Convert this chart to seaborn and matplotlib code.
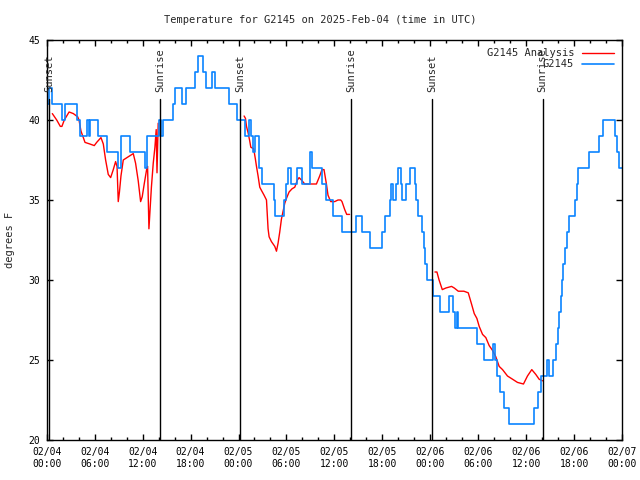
import matplotlib
matplotlib.use('Agg')
import matplotlib.pyplot as plt
import matplotlib.transforms as mtransforms
from matplotlib.ticker import MultipleLocator
import seaborn as sns

# observed G2145 temperatures: hour since 02/04 00:00 UTC where the value changes, and the value (deg F)
obs_hours = [0.2, 0.3, 0.6, 1.85, 2.3, 3.8, 4.2, 5.1, 5.3, 5.45, 6.45, 7.6, 8.9, 9.3, 10.45,
             12.35, 12.6, 14.1, 14.35, 14.5, 15.8, 16.1, 16.9, 17.4, 18.6, 18.9, 19.6, 19.9,
             20.7, 21.1, 22.75, 23.8, 24.85, 25.3, 25.6, 25.85, 26.05, 26.6, 26.9, 28.4,
             28.55, 29.7, 29.9, 30.15, 30.55, 31.3, 31.9, 32.95, 33.2, 34.5, 34.95, 35.8,
             36.95, 38.7, 39.4, 40.5, 41.9, 42.3, 42.9, 43.1, 43.3, 43.7, 43.9, 44.3, 44.5,
             45.0, 45.4, 46.1, 46.25, 46.5, 47.0, 47.2, 47.35, 47.55, 48.35, 49.2, 50.3,
             50.9, 51.15, 51.3, 51.45, 53.8, 54.75, 55.9, 56.05, 56.3, 56.7, 57.2, 57.9,
             61.0, 61.5, 61.8, 62.6, 62.9, 63.3, 63.7, 63.95, 64.1, 64.3, 64.5, 64.65,
             64.85, 65.1, 65.35, 66.1, 66.3, 66.5, 67.9, 69.15, 69.65, 71.1, 71.35, 71.6, 72.0]
obs_temps = [41, 42, 41, 40, 41, 40, 39, 40, 39, 40, 39, 38, 37, 39, 38,
             37, 39, 40, 39, 40, 41, 42, 41, 42, 43, 44, 43, 42,
             43, 42, 41, 40, 39, 40, 39, 38, 39, 37, 36, 35,
             34, 35, 36, 37, 36, 37, 36, 38, 37, 36, 35, 34,
             33, 34, 33, 32, 33, 34, 35, 36, 35, 36, 37, 36, 35,
             36, 37, 36, 35, 34, 33, 32, 31, 30, 29, 28, 29,
             28, 27, 28, 27, 26, 25, 26, 25, 24, 23, 22, 21,
             22, 23, 24, 25, 24, 25, 26, 27, 28, 29, 30, 31,
             32, 33, 34, 35, 36, 37, 38, 39, 40, 39, 38, 37, 37]

# analysis series, three separate pieces
ana1_hours = [0.7, 1.25, 1.7, 1.9, 2.2, 2.8, 3.33, 3.87, 4.04, 4.29, 4.58, 4.79, 5.4, 5.95,
              6.25, 6.79, 7.08, 7.37, 7.7, 8.0, 8.33, 8.62, 8.8, 8.95, 9.1, 9.29, 9.58, 10.2,
              10.83, 11.12, 11.45, 11.75, 11.95, 12.2, 12.5, 12.62, 12.79, 13.1, 13.33, 13.54,
              13.7, 13.8, 13.95]
ana1_temps = [40.4, 40.0, 39.6, 39.6, 40.0, 40.5, 40.4, 40.2, 40.0, 39.3, 38.9, 38.6, 38.5, 38.4,
              38.6, 38.9, 38.5, 37.5, 36.6, 36.4, 36.9, 37.4, 37.1, 34.9, 35.5, 36.5, 37.5, 37.7,
              37.9, 37.3, 36.2, 34.9, 35.2, 36.0, 36.9, 37.1, 33.2, 35.8, 37.3, 38.3,
              39.4, 36.7, 39.8]
ana2_hours = [24.7, 24.87, 25.0, 25.2, 25.4, 25.54, 25.9, 26.1, 26.25, 26.45, 26.66, 26.87, 27.2,
              27.5, 27.7, 27.83, 28.12, 28.54, 28.75, 28.95, 29.16, 29.37, 29.58, 29.79, 30.0,
              30.33, 30.7, 31.04, 31.37, 31.58, 31.87, 32.29, 33.75, 34.16, 34.45, 34.7, 35.0,
              35.2, 35.54, 36.04, 36.45, 36.79, 36.95, 37.29, 37.54, 37.9]
ana2_temps = [40.25, 40.1, 39.6, 39.2, 38.7, 38.3, 38.2, 37.6, 37.1, 36.5, 35.8, 35.6, 35.3,
              35.0, 33.2, 32.7, 32.4, 32.1, 31.8, 32.3, 33.0, 33.8, 34.3, 34.8, 35.1,
              35.5, 35.7, 35.8, 36.25, 36.4, 36.25, 36.0, 36.0, 36.5, 36.9, 36.9, 36.0,
              35.3, 34.9, 34.9, 35.0, 35.0, 34.9, 34.4, 34.1, 34.1]
ana3_hours = [48.58, 48.83, 49.1, 49.5, 49.95, 50.66, 51.0, 51.5, 52.2, 52.75, 53.16, 53.5, 53.83,
              54.12, 54.54, 54.95, 55.37, 55.79, 56.2, 56.62, 57.04, 57.66, 58.29, 58.91, 59.66,
              60.16, 60.7, 61.2, 61.62, 62.04]
ana3_temps = [30.5, 30.5, 30.0, 29.4, 29.5, 29.6, 29.5, 29.3, 29.3, 29.2, 28.5, 27.9, 27.6,
              27.1, 26.6, 26.4, 25.9, 25.6, 25.2, 24.6, 24.4, 24.0, 23.8, 23.6, 23.5,
              24.0, 24.4, 24.1, 23.8, 23.7]

sun_events = ['Sunset', 'Sunrise', 'Sunset', 'Sunrise', 'Sunset', 'Sunrise']
sun_hours = [0.33, 14.2, 24.2, 38.08, 48.2, 62.05]

tick_labels = ['02/04\n00:00', '02/04\n06:00', '02/04\n12:00', '02/04\n18:00',
               '02/05\n00:00', '02/05\n06:00', '02/05\n12:00', '02/05\n18:00',
               '02/06\n00:00', '02/06\n06:00', '02/06\n12:00', '02/06\n18:00', '02/07\n00:00']

sns.set_style('ticks')
plt.rcParams['font.family'] = ['DejaVu Sans Mono']
plt.rcParams['font.size'] = 7

fig = plt.figure(figsize=(6.4, 4.8), dpi=100)
ax = fig.add_axes([0.073, 0.0833, 0.899, 0.8334])

red = '#ff0000'
blue = '#0a84ff'

sns.lineplot(x=ana1_hours, y=ana1_temps, color=red, lw=1.0, ax=ax, label='G2145 Analysis')
sns.lineplot(x=ana2_hours, y=ana2_temps, color=red, lw=1.0, ax=ax)
sns.lineplot(x=ana3_hours, y=ana3_temps, color=red, lw=1.0, ax=ax)
sns.lineplot(x=obs_hours, y=obs_temps, color=blue, lw=1.2, ax=ax, label='G2145',
             drawstyle='steps-post')

trans = mtransforms.blended_transform_factory(ax.transData, ax.transAxes)
for name, h in zip(sun_events, sun_hours):
    ax.axvline(h, ymin=0, ymax=0.8525, color='black', lw=1.0)
    ax.text(h, 0.87, name, rotation=90, ha='center', va='bottom', transform=trans, fontsize=7.5)

ax.set_xlim(0, 72)
ax.set_ylim(20, 45)
ax.set_xticks(range(0, 73, 6))
ax.set_xticklabels(tick_labels)
ax.xaxis.set_minor_locator(MultipleLocator(2))
ax.set_yticks(range(20, 46, 5))
ax.tick_params(which='both', direction='in', top=True, right=True, colors='black', width=1.0)
ax.tick_params(which='major', length=4, labelsize=7)
ax.tick_params(which='minor', length=2)
ax.tick_params(axis='x', pad=5)
ax.tick_params(axis='y', pad=5)
for s in ax.spines.values():
    s.set_color('black')
    s.set_linewidth(1.0)
ax.set_xlabel('')
ax.set_ylabel('')

ax.legend(loc='upper right', frameon=False, markerfirst=False, fontsize=7.5,
          handlelength=3.0, handletextpad=0.8, borderaxespad=0.4, labelspacing=0.1)

fig.text(0.5, 0.958, 'Temperature for G2145 on 2025-Feb-04 (time in UTC)', ha='center', va='center',
         fontsize=7.5)
fig.text(0.016, 0.5, 'degrees F', rotation=90, ha='center', va='center', fontsize=7.5)

fig.savefig('out.png', dpi=100)
